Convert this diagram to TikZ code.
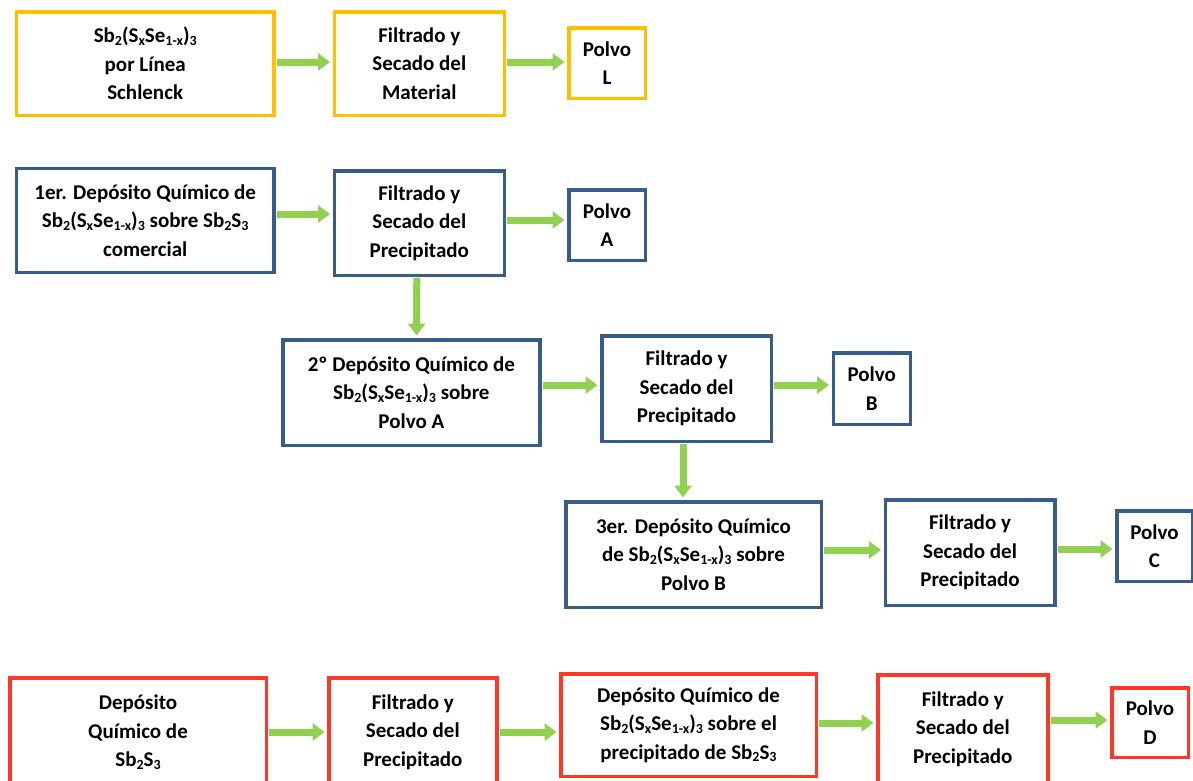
\documentclass[tikz,border=0pt]{standalone}
\usepackage{fontspec}
\setmainfont{Carlito}
\usetikzlibrary{arrows.meta}

\definecolor{boxyellow}{HTML}{FFC000}
\definecolor{boxblue}{HTML}{385D8A}
\definecolor{boxred}{HTML}{FF3728}
\definecolor{flowgreen}{HTML}{92D050}

\newcommand{\dn}[1]{\raisebox{-0.12em}{\fontsize{14}{14}\selectfont #1}}
\newcommand{\sbsse}{Sb\dn{2}(S\dn{x}Se\dn{1-x})\dn{3}}
\newcommand{\sbs}{Sb\dn{2}S\dn{3}}

\begin{document}
\begin{tikzpicture}[
    x=1pt, y=-1pt,
    box/.style={draw, rectangle, line width=3.5pt, align=center, inner sep=2pt,
        font=\fontsize{21}{28.5}\selectfont\bfseries},
    bigbox/.style={box, minimum width=257pt, minimum height=104pt},
    midbox/.style={box, minimum width=170pt, minimum height=104pt},
    endbox/.style={box, minimum width=76.5pt, minimum height=70.5pt},
    flow/.style={-{Triangle[width=17pt, length=12pt]}, line width=7pt, flowgreen,
        shorten <=1pt, shorten >=2.5pt}
]
\useasboundingbox (0,0) rectangle (1193,780);
\clip (0,0) rectangle (1193,780);

% Schlenck route
\node[bigbox, boxyellow, text=black, minimum width=257.5pt, minimum height=103.5pt] (L1) at (145.2,63.5) {\sbsse\\por Línea\\Schlenck};
\node[midbox, boxyellow, text=black, minimum height=103.5pt] (L2) at (419.25,63.5) {Filtrado y\\Secado del\\Material};
\node[endbox, boxyellow, text=black] (L3) at (607,63) {Polvo\\L};

% Successive depositions
\node[bigbox, boxblue, text=black, minimum width=257.5pt] (A1) at (145.2,220.3) {1er. Depósito Químico de\\\sbsse{} sobre \sbs\\comercial};
\node[midbox, boxblue, text=black, minimum height=104.5pt] (A2) at (419.25,223) {Filtrado y\\Secado del\\Precipitado};
\node[endbox, boxblue, text=black] (A3) at (607,225) {Polvo\\A};

\node[bigbox, boxblue, text=black, minimum height=105.5pt] (B1) at (411.35,392.5) {2º Depósito Químico de\\\sbsse{} sobre\\Polvo A};
\node[midbox, boxblue, text=black, minimum width=169.5pt, minimum height=105.5pt] (B2) at (686.5,388.5) {Filtrado y\\Secado del\\Precipitado};
\node[endbox, boxblue, text=black, minimum width=77pt, minimum height=71.5pt] (B3) at (871.75,388.5) {Polvo\\B};

\node[bigbox, boxblue, text=black, minimum width=255.5pt, minimum height=105.5pt] (C1) at (693.5,554.5) {3er. Depósito Químico\\de \sbsse{} sobre\\Polvo B};
\node[midbox, boxblue, text=black, minimum width=169.5pt, minimum height=105.5pt] (C2) at (970,552.5) {Filtrado y\\Secado del\\Precipitado};
\node[endbox, boxblue, text=black, minimum width=75.5pt] (C3) at (1154.5,546) {Polvo\\C};

% Deposition on Sb2S3
\node[bigbox, boxred, text=black, minimum width=256.5pt, minimum height=108.5pt] (D1) at (138,732) {Depósito\\Químico de\\\sbs};
\node[midbox, boxred, text=black, minimum width=168pt, minimum height=108.5pt] (D2) at (412.75,732) {Filtrado y\\Secado del\\Precipitado};
\node[bigbox, boxred, text=black, minimum width=255.5pt, minimum height=102.5pt] (D3) at (688.5,725) {Depósito Químico de\\\sbsse{} sobre el\\precipitado de \sbs};
\node[midbox, boxred, text=black, minimum height=108.5pt] (D4) at (962.75,729) {Filtrado y\\Secado del\\Precipitado};
\node[endbox, boxred, text=black, minimum height=69.5pt] (D5) at (1150,722.5) {Polvo\\D};

% Arrows
\draw[flow] ([yshift=1.5pt]L1.east) -- ([yshift=1.5pt]L2.west);
\draw[flow] ([yshift=1.5pt]L2.east) -- ([yshift=1pt]L3.west);

\draw[flow] ([yshift=6.3pt]A1.east) -- ([yshift=9pt]A2.west);
\draw[flow] ([yshift=3pt]A2.east) -- ([yshift=5pt]A3.west);
\draw[flow] ([xshift=-2.5pt]A2.south) -- ([xshift=5.35pt]B1.north);

\draw[flow] ([yshift=7.5pt]B1.east) -- ([yshift=3.5pt]B2.west);
\draw[flow] ([yshift=3.5pt]B2.east) -- ([yshift=3.5pt]B3.west);
\draw[flow] ([xshift=-3.5pt]B2.south) -- ([xshift=-10.5pt]C1.north);

\draw[flow] ([yshift=4.5pt]C1.east) -- ([yshift=2.5pt]C2.west);
\draw[flow] ([yshift=3.5pt]C2.east) -- ([yshift=-3pt]C3.west);

\draw[flow] (D1.east) -- (D2.west);
\draw[flow] (D2.east) -- ([yshift=-7pt]D3.west);
\draw[flow] ([yshift=2pt]D3.east) -- ([yshift=6pt]D4.west);
\draw[flow] ([yshift=9pt]D4.east) -- ([yshift=2.5pt]D5.west);

\end{tikzpicture}
\end{document}
